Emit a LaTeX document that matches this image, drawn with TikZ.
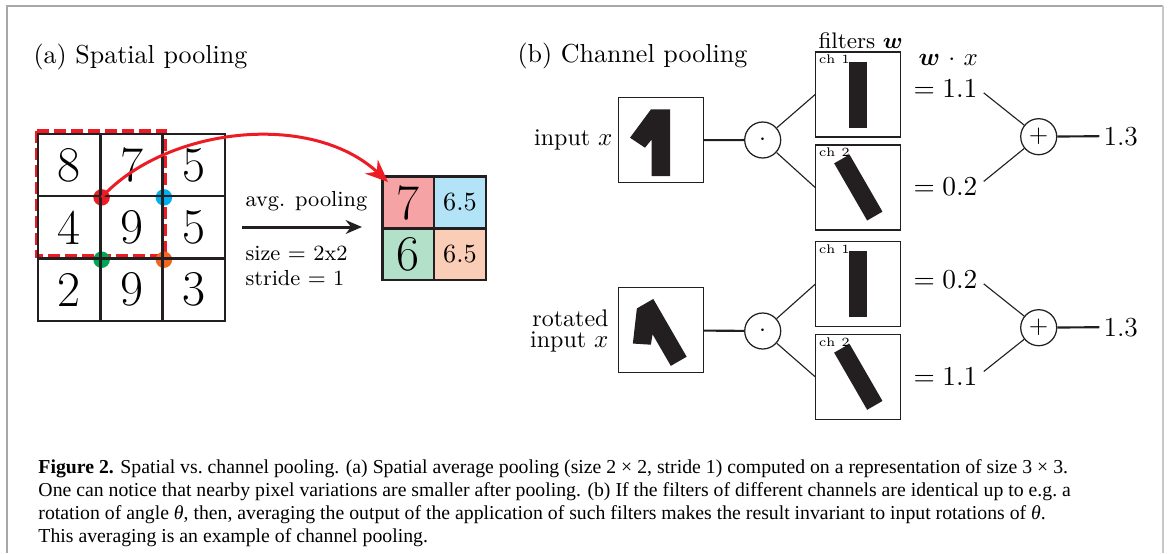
\documentclass[tikz,border=0pt]{standalone}
\usepackage{amsmath}
\usepackage{fontspec}
\newfontfamily\capfont{Liberation Serif}
\usetikzlibrary{arrows.meta,backgrounds}

\definecolor{pred}{HTML}{ED1C24}
\definecolor{pblue}{HTML}{00AEEF}
\definecolor{pgreen}{HTML}{00A651}
\definecolor{porange}{HTML}{F26522}
\definecolor{cellred}{HTML}{F5A3A5}
\definecolor{cellblue}{HTML}{B3E3F7}
\definecolor{cellgreen}{HTML}{B3E0C8}
\definecolor{cellorange}{HTML}{FACDB6}
\definecolor{ink}{HTML}{231F20}
\definecolor{framegray}{HTML}{A8A8A8}
\definecolor{framelight}{HTML}{C8C8C8}

\tikzset{
  % a 3x3 input cell and a 2x2 pooled cell
  cell/.style={draw=ink, line width=1pt, minimum size=24.93pt, inner sep=0pt,
               font=\fontsize{20}{24}\selectfont},
  outcell/.style={draw=ink, line width=1pt, minimum size=20.68pt, inner sep=0pt},
  bignum/.style={font=\fontsize{20}{24}\selectfont},
  smallnum/.style={font=\fontsize{10.5}{12}\selectfont},
  gridpt/.style={circle, inner sep=0pt, minimum size=6.6pt},
  label/.style={anchor=base west, inner sep=0pt},
  imgbox/.style={draw=ink, line width=0.5pt, minimum size=34pt, inner sep=0pt},
  opcirc/.style={circle, draw=ink, line width=0.5pt, minimum size=14.4pt, inner sep=0pt,
                 font=\fontsize{10}{12}\selectfont},
  thin/.style={draw=ink, line width=0.45pt},
  thick/.style={draw=ink, line width=0.85pt},
  chlab/.style={anchor=north west, inner sep=1.3pt, font=\fontsize{5}{6}\selectfont},
  eqlab/.style={anchor=base west, inner sep=0pt, font=\fontsize{11}{13}\selectfont},
  capline/.style={anchor=base west, inner sep=0pt, font=\capfont\fontsize{7.9}{9.2}\selectfont},
  % glyph "1" drawn as a filled polygon, centred on its image box
  digitone/.pic={\fill[ink] (-10,-31) -- (9,-31) -- (9,35.7) -- (-9.3,35.7) -- (-9.3,-0.8)
                 -- (-16,7.4) -- (-31,-2.6) -- cycle;},
  % vertical filter bar
  filterbar/.pic={\fill[ink] (-8.85,-33) rectangle (8.85,33);}
}

\begin{document}
\begin{tikzpicture}[x=0.4pt, y=-0.4pt]
\useasboundingbox (0,0) rectangle (1170,553);

% outer frame
\draw[framegray, line width=0.6pt] (7,553) -- (7,6) -- (1163,6);
\draw[framelight, line width=0.8pt] (1163,6) -- (1163,553);

% ---------------- (a) spatial pooling ----------------
\node[label, font=\fontsize{10.4}{12}\selectfont] (ta) at (33,63) {(a) Spatial pooling};

\node[cell] (c11) at (69.2,165) {8};
\node[cell] (c12) at (131.5,165) {7};
\node[cell] (c13) at (193.8,165) {5};
\node[cell] (c21) at (69.2,227.3) {4};
\node[cell] (c22) at (131.5,227.3) {9};
\node[cell] (c23) at (193.8,227.3) {5};
\node[cell] (c31) at (69.2,289.6) {2};
\node[cell] (c32) at (131.5,289.6) {9};
\node[cell] (c33) at (193.8,289.6) {3};

\begin{pgfonlayer}{background}
  % pooling window, under the grid lines
  \draw[pred, line width=1.6pt, dash pattern=on 4.8pt off 2pt]
    ([shift={(0,-1.5)}]c11.north west) rectangle ([shift={(1,-4)}]c22.south east);
  % window centres
  \node[gridpt, fill=pred]    (gr) at (c11.south east) {};
  \node[gridpt, fill=pblue]   (gb) at (c12.south east) {};
  \node[gridpt, fill=pgreen]  (gg) at (c21.south east) {};
  \node[gridpt, fill=porange] (go) at (c22.south east) {};
\end{pgfonlayer}

% pooled output
\node[outcell, fill=cellred]    (o11) at (408.3,202.5) {};
\node[outcell, fill=cellblue]   (o12) at (460,202.5) {};
\node[outcell, fill=cellgreen]  (o21) at (408.3,254.2) {};
\node[outcell, fill=cellorange] (o22) at (460,254.2) {};
\node[bignum]   at (o11) {7};
\node[smallnum] at (o12) {6.5};
\node[bignum]   at (o21) {6};
\node[smallnum] at (o22) {6.5};

% arrow from the first window to its pooled value
\coordinate (tip) at (388,182);
\draw[pred, line width=1.2pt, -{Stealth[length=9pt, width=7.5pt]}]
  (gr.center) .. controls (165,128) and (310,110) .. (tip);

% pooling operation
\coordinate (ps) at (242,227);
\coordinate (pe) at (362,227);
\draw[ink, line width=1.2pt, -{Stealth[length=6.5pt, width=5.5pt]}] (ps) -- (pe);
\node[label, font=\fontsize{8.7}{10}\selectfont] (tavg) at (245,206) {avg. pooling};
\node[label, font=\fontsize{8.7}{10}\selectfont] (tsize) at (245,260) {size $=$ 2x2};
\node[label, font=\fontsize{8.7}{10}\selectfont] (tstride) at (245,285) {stride $=$ 1};

% ---------------- (b) channel pooling ----------------
\node[label, font=\fontsize{10.4}{12}\selectfont] (tb) at (517,62) {(b) Channel pooling};
\node[label, font=\fontsize{9}{11}\selectfont] (tfil) at (818,48) {filters $\boldsymbol{w}$};
\node[label, font=\fontsize{10}{12}\selectfont] (twx) at (918,65) {$\boldsymbol{w}\mkern2mu\cdot\mkern2mu x$};

% upright input
\node[anchor=base east, inner sep=0pt, font=\fontsize{9.6}{11}\selectfont] (tin) at (613,145) {input $x$};
\node[imgbox] (in1) at (661,140.3) {};
\pic at (in1.center) {digitone};
\node[opcirc] (m1) at (762.7,140) {$\cdot$};
\node[imgbox] (f11) at (858.3,94.5) {};
\node[imgbox] (f12) at (858.3,187.5) {};
\pic at (f11.center) {filterbar};
\pic[rotate=30] at (f12.center) {filterbar};
\node[chlab] at (f11.north west) {ch 1};
\node[chlab] at (f12.north west) {ch 2};
\node[eqlab] (e11) at (913,97) {$=1.1$};
\node[eqlab] (e12) at (913,195) {$=0.2$};
\node[opcirc] (s1) at (1038.7,136.7) {$+$};
\node[eqlab] (r1) at (1103,145) {1.3};

\draw[thick] (in1) -- (m1);
\draw[thin] (m1) -- (f11.west);
\draw[thin] (m1) -- (f12.west);
\draw[thin, shorten <=3pt] (e11.east) -- (s1);
\draw[thin, shorten <=3pt] (e12.east) -- (s1);
\draw[thick, shorten >=1.5pt] (s1) -- (r1.west);

% rotated input
\node[anchor=east, align=right, inner sep=0pt, font=\fontsize{9.6}{8.5}\selectfont] (tin2) at (609,331) {rotated\\input $x$};
\node[imgbox] (in2) at (661,330.3) {};
\pic[rotate=30] at (in2.center) {digitone};
\node[opcirc] (m2) at (762.7,331) {$\cdot$};
\node[imgbox] (f21) at (858.3,284.2) {};
\node[imgbox] (f22) at (858.3,376.8) {};
\pic at (f21.center) {filterbar};
\pic[rotate=30] at (f22.center) {filterbar};
\node[chlab] at (f21.north west) {ch 1};
\node[chlab] at (f22.north west) {ch 2};
\node[eqlab] (e21) at (913,288) {$=0.2$};
\node[eqlab] (e22) at (913,385) {$=1.1$};
\node[opcirc] (s2) at (1038.7,327.7) {$+$};
\node[eqlab] (r2) at (1103,336) {1.3};

\draw[thick] (in2) -- (m2);
\draw[thin] (m2) -- (f21.west);
\draw[thin] (m2) -- (f22.west);
\draw[thin, shorten <=3pt] (e21.east) -- (s2);
\draw[thin, shorten <=3pt] (e22.east) -- (s2);
\draw[thick, shorten >=1.5pt] (s2) -- (r2.west);

% ---------------- caption ----------------
\node[capline] (cap1) at (38,473) {\textbf{Figure 2.} Spatial vs.\ channel pooling. (a) Spatial average pooling (size 2 × 2, stride 1) computed on a representation of size 3 × 3.};
\node[capline] (cap2) at (38,496) {One can notice that nearby pixel variations are smaller after pooling. (b) If the filters of different channels are identical up to e.g.\ a};
\node[capline] (cap3) at (38,519) {rotation of angle \textit{θ}, then, averaging the output of the application of such filters makes the result invariant to input rotations of \textit{θ}.};
\node[capline] (cap4) at (38,542) {This averaging is an example of channel pooling.};
\end{tikzpicture}
\end{document}
